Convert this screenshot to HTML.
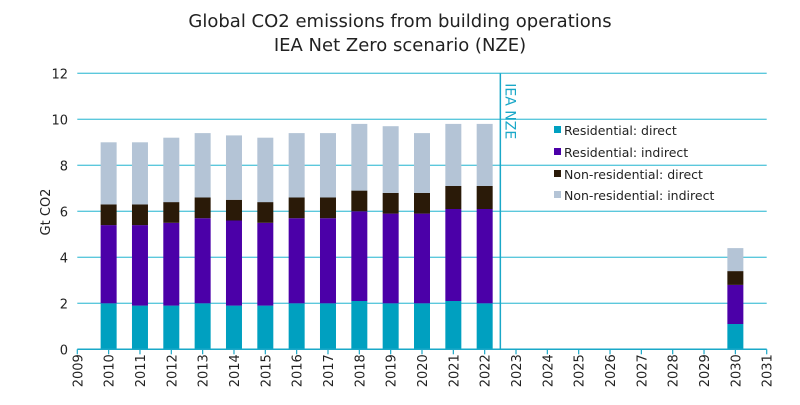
<!DOCTYPE html>
<html><head><meta charset="utf-8"><style>
body{margin:0;background:#fff;}
svg text{font-family:"DejaVu Sans","Liberation Sans",sans-serif;fill:#222;}
</style></head><body>
<svg id="chart" width="800" height="400">
<text x="400" y="27" text-anchor="middle" font-size="18">Global CO2 emissions from building operations</text>
<text x="400" y="51" text-anchor="middle" font-size="18">IEA Net Zero scenario (NZE)</text>
<text transform="translate(50,212) rotate(-90)" text-anchor="middle" font-size="13">Gt CO2</text>
<g id="grid"></g><g id="bars"></g><g id="axes"></g>
<g font-size="12.5">
<rect x="554" y="126" width="7" height="7" fill="#00a0c0"/>
<text x="564" y="135">Residential: direct</text>
<rect x="554" y="148" width="7" height="7" fill="#4b00a8"/>
<text x="564" y="157">Residential: indirect</text>
<rect x="554" y="170" width="7" height="7" fill="#2a1a08"/>
<text x="564" y="179">Non-residential: direct</text>
<rect x="554" y="191" width="7" height="7" fill="#b4c4d6"/>
<text x="564" y="200">Non-residential: indirect</text>
</g>
</svg>
<script>
const years=[2010,2011,2012,2013,2014,2015,2016,2017,2018,2019,2020,2021,2022,2030];
const resDirect=[2.0,1.9,1.9,2.0,1.9,1.9,2.0,2.0,2.1,2.0,2.0,2.1,2.0,1.1];
const resIndirect=[3.4,3.5,3.6,3.7,3.7,3.6,3.7,3.7,3.9,3.9,3.9,4.0,4.1,1.7];
const nonResDirect=[0.9,0.9,0.9,0.9,0.9,0.9,0.9,0.9,0.9,0.9,0.9,1.0,1.0,0.6];
const nonResIndirect=[2.7,2.7,2.8,2.8,2.8,2.8,2.8,2.8,2.9,2.9,2.6,2.7,2.7,1.0];
const yTicks=[0,2,4,6,8,10,12];
const xMin=2009,xMax=2031,nzeYear=2022.5;
const X=v=>77.3+(v-xMin)*(766.7-77.3)/(xMax-xMin);
const Y=v=>349.3-v*(349.3-73.3)/12;
const NS="http://www.w3.org/2000/svg";
function mk(t,a,p){const e=document.createElementNS(NS,t);for(const k in a)e.setAttribute(k,a[k]);p.appendChild(e);return e;}
const grid=document.getElementById('grid'),bars=document.getElementById('bars'),axes=document.getElementById('axes');
yTicks.forEach(t=>{
 if(t>0){const l=mk('line',{x1:X(xMin),x2:X(xMax),y1:Y(t),y2:Y(t),stroke:'#5cc8dc','stroke-width':1.3},grid);
 
 }
 const tx=mk('text',{x:68,y:Y(t)+5,'text-anchor':'end','font-size':13},axes);tx.textContent=t;
 
 
});
const series=[[resDirect,'#00a0c0','residential-direct'],[resIndirect,'#4b00a8','residential-indirect'],[nonResDirect,'#2a1a08','nonresidential-direct'],[nonResIndirect,'#b4c4d6','nonresidential-indirect']];
years.forEach((yr,i)=>{let base=0;series.forEach(([arr,c,n])=>{const v=arr[i];
 const r=mk('rect',{x:X(yr)-8,width:16,y:Y(base+v),height:Y(base)-Y(base+v),fill:c},bars);
 
 
 base+=v;});});
const ax=mk('line',{x1:X(xMin),x2:X(xMax),y1:Y(0),y2:Y(0),stroke:'#1aa8c8','stroke-width':1.5},axes);


for(let yr=xMin;yr<=xMax;yr++){
 mk('line',{x1:X(yr),x2:X(yr),y1:Y(0),y2:Y(0)+5,stroke:'#1aa8c8','stroke-width':1.2},axes);
 const t=mk('text',{transform:`translate(${X(yr)+5},${Y(0)+38}) rotate(-90)`,'font-size':13},axes);t.textContent=yr;
 
 
}
const nz=mk('line',{x1:X(nzeYear),x2:X(nzeYear),y1:Y(12),y2:Y(0),stroke:'#1aa8c8','stroke-width':1.5},axes);


const nt=mk('text',{transform:`translate(${X(nzeYear)+5},${Y(12)+10}) rotate(90)`,'font-size':14,style:'fill:#1aa8c8'},axes);nt.textContent='IEA NZE';


</script>
</body></html>
